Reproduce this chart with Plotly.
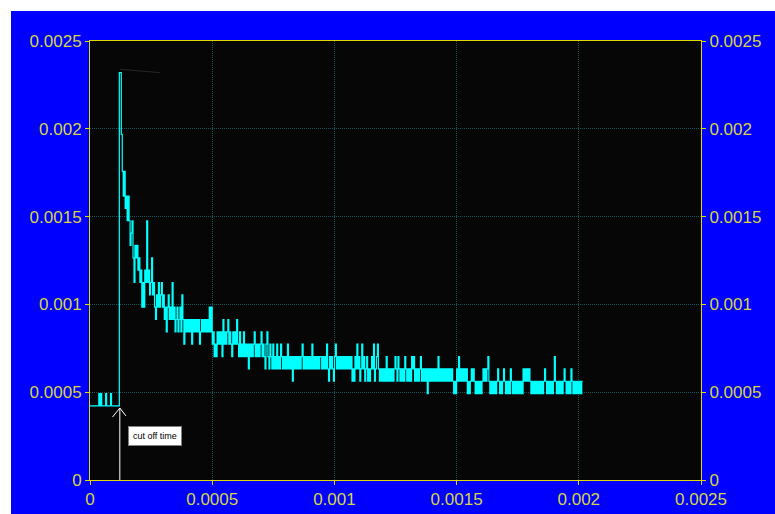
import plotly.graph_objects as go

# Sampled decay record: ADC counts per sample, 4 us sample spacing
sample_dt = 4e-6          # s
lsb = 0.0000703           # value of one count
counts = [
    6, 6, 6, 6, 6, 6, 6, 6, 6, 7, 6, 7, 6, 6, 6, 6, 7, 6, 6, 6,
    6, 7, 6, 6, 6, 6, 6, 6, 6, 6, 33, 33, 28, 25, 23, 25, 22, 23, 21, 23,
    21, 19, 20, 21, 18, 16, 19, 18, 19, 17, 18, 16, 17, 14, 16, 14, 17, 16, 21, 16,
    17, 15, 16, 18, 15, 16, 14, 13, 15, 14, 16, 14, 15, 16, 14, 15, 13, 14, 12, 14,
    15, 13, 14, 13, 16, 13, 14, 12, 13, 14, 12, 13, 14, 12, 15, 13, 11, 13, 12, 13,
    12, 13, 12, 13, 11, 13, 12, 13, 12, 13, 12, 13, 11, 12, 13, 12, 13, 12, 13, 12,
    13, 12, 14, 12, 14, 11, 12, 10, 11, 10, 12, 11, 12, 11, 12, 10, 13, 11, 12, 11,
    12, 13, 11, 12, 11, 10, 12, 11, 12, 11, 13, 11, 10, 12, 10, 11, 10, 12, 10, 11,
    10, 11, 9, 11, 10, 11, 10, 11, 12, 10, 11, 10, 11, 10, 11, 12, 10, 11, 10, 9,
    11, 12, 10, 9, 11, 10, 9, 11, 9, 10, 9, 11, 9, 10, 9, 11, 10, 9, 10, 9,
    10, 9, 11, 9, 10, 9, 10, 8, 10, 9, 10, 9, 10, 9, 10, 9, 10, 11, 9, 10,
    9, 10, 9, 10, 9, 10, 9, 11, 9, 10, 9, 10, 9, 10, 9, 10, 10, 9, 10, 9,
    10, 9, 11, 9, 8, 10, 9, 10, 9, 8, 10, 11, 9, 10, 9, 10, 9, 10, 9, 10,
    9, 10, 9, 10, 9, 10, 9, 10, 8, 9, 8, 10, 9, 11, 9, 10, 8, 9, 11, 9,
    10, 8, 9, 10, 8, 9, 8, 9, 10, 9, 11, 8, 9, 10, 11, 9, 8, 9, 8, 9,
    8, 9, 8, 10, 8, 9, 8, 9, 8, 9, 8, 9, 10, 9, 8, 10, 9, 8, 9, 8,
    9, 8, 10, 9, 8, 9, 8, 9, 8, 10, 9, 10, 8, 9, 8, 9, 8, 9, 10, 8,
    9, 8, 9, 8, 9, 7, 9, 8, 9, 8, 9, 8, 9, 8, 9, 8, 10, 8, 9, 8,
    9, 8, 9, 8, 9, 8, 9, 8, 9, 8, 9, 8, 7, 8, 7, 9, 8, 10, 8, 9,
    8, 9, 8, 9, 8, 9, 7, 8, 7, 8, 9, 8, 9, 8, 7, 8, 7, 8, 7, 8,
    7, 8, 9, 8, 9, 8, 9, 10, 8, 7, 8, 7, 8, 7, 8, 7, 8, 9, 8, 7,
    8, 7, 8, 9, 8, 7, 8, 7, 8, 7, 9, 8, 7, 8, 7, 8, 7, 8, 7, 8,
    7, 8, 7, 9, 8, 9, 8, 9, 8, 9, 8, 7, 8, 7, 8, 7, 8, 7, 8, 7,
    8, 7, 8, 7, 8, 9, 8, 7, 8, 7, 8, 7, 8, 7, 8, 10, 8, 7, 8, 7,
    8, 7, 8, 7, 8, 9, 8, 7, 8, 7, 8, 7, 9, 8, 7, 8, 7, 8, 7, 8,
    7, 8, 7, 8, 8,
]

cutoff_time = 0.000122
cutoff_level = 0.00041

x_ticks = [0, 0.0005, 0.001, 0.0015, 0.002, 0.0025]
x_tick_text = ["0", "0.0005", "0.001", "0.0015", "0.002", "0.0025"]
y_ticks = [0, 0.0005, 0.001, 0.0015, 0.002, 0.0025]
y_tick_text = ["0", "0.0005", "0.001", "0.0015", "0.002", "0.0025"]

times = [i * sample_dt for i in range(len(counts))]
values = [c * lsb for c in counts]

YELLOW = "#e0d800"
LABEL = "#d4d444"
GRID = "#0f5656"
tick_font = dict(family="Liberation Sans, Arial, sans-serif", size=17, color=LABEL)

fig = go.Figure()
fig.add_trace(go.Scatter(
    x=times, y=values, mode="lines", line=dict(color="#00ffff", width=1.2, shape="hv"),
    hoverinfo="skip", showlegend=False,
))
# cut-off marker line (drawn against the right-hand axis)
fig.add_trace(go.Scatter(
    x=[cutoff_time, cutoff_time], y=[0, cutoff_level], yaxis="y2", mode="lines",
    line=dict(color="white", width=1), hoverinfo="skip", showlegend=False,
))

axis_common = dict(
    range=[0, 0.0025], ticks="outside", ticklen=4, tickwidth=1, tickcolor=YELLOW,
    tickfont=tick_font, zeroline=False, fixedrange=True,
)

fig.update_layout(
    width=775, height=514,
    margin=dict(l=90, r=74, t=41, b=34, autoexpand=False),
    paper_bgcolor="#0000ff", plot_bgcolor="#060606",
    xaxis=dict(
        **axis_common, tickvals=x_ticks, ticktext=x_tick_text,
        showline=True, linecolor=YELLOW, linewidth=1, mirror=True,
        showgrid=True, gridcolor=GRID, griddash="1px,1px", gridwidth=1,
    ),
    yaxis=dict(
        **axis_common, tickvals=y_ticks, ticktext=y_tick_text,
        showline=True, linecolor=YELLOW, linewidth=1, mirror=True,
        showgrid=True, gridcolor=GRID, griddash="1px,1px", gridwidth=1,
    ),
    yaxis2=dict(
        **axis_common, tickvals=y_ticks, ticktext=y_tick_text,
        overlaying="y", side="right", anchor="x", showgrid=False, showline=False,
    ),
    showlegend=False,
)

# arrow head at the top of the cut-off marker
fig.add_shape(
    type="path", xref="x", yref="y",
    path=(f"M {cutoff_time - 0.000030},{cutoff_level - 0.000052} "
          f"L {cutoff_time},{cutoff_level} "
          f"L {cutoff_time + 0.000025},{cutoff_level - 0.000045}"),
    line=dict(color="white", width=1),
)
# faint leader line near the peak
fig.add_shape(
    type="line", xref="x", yref="y",
    x0=0.000123, y0=0.002339, x1=0.000286, y1=0.00232,
    line=dict(color="#262626", width=1),
)

fig.add_annotation(
    x=0.000266, y=0.00025, xref="x", yref="y", text="cut off time", showarrow=False,
    bgcolor="white", bordercolor="#808080", borderwidth=1, borderpad=4,
    font=dict(family="Liberation Sans, Arial, sans-serif", size=9, color="black"),
)

# white strips along the top and left edges of the page
fig.add_shape(type="rect", xref="paper", yref="paper", layer="above",
              x0=-0.16, x1=-0.1293, y0=-0.1, y1=1.1,
              fillcolor="white", line=dict(width=0))
fig.add_shape(type="rect", xref="paper", yref="paper", layer="above",
              x0=-0.16, x1=1.2, y0=1.0683, y1=1.1,
              fillcolor="white", line=dict(width=0))

fig.write_html("out.html")
